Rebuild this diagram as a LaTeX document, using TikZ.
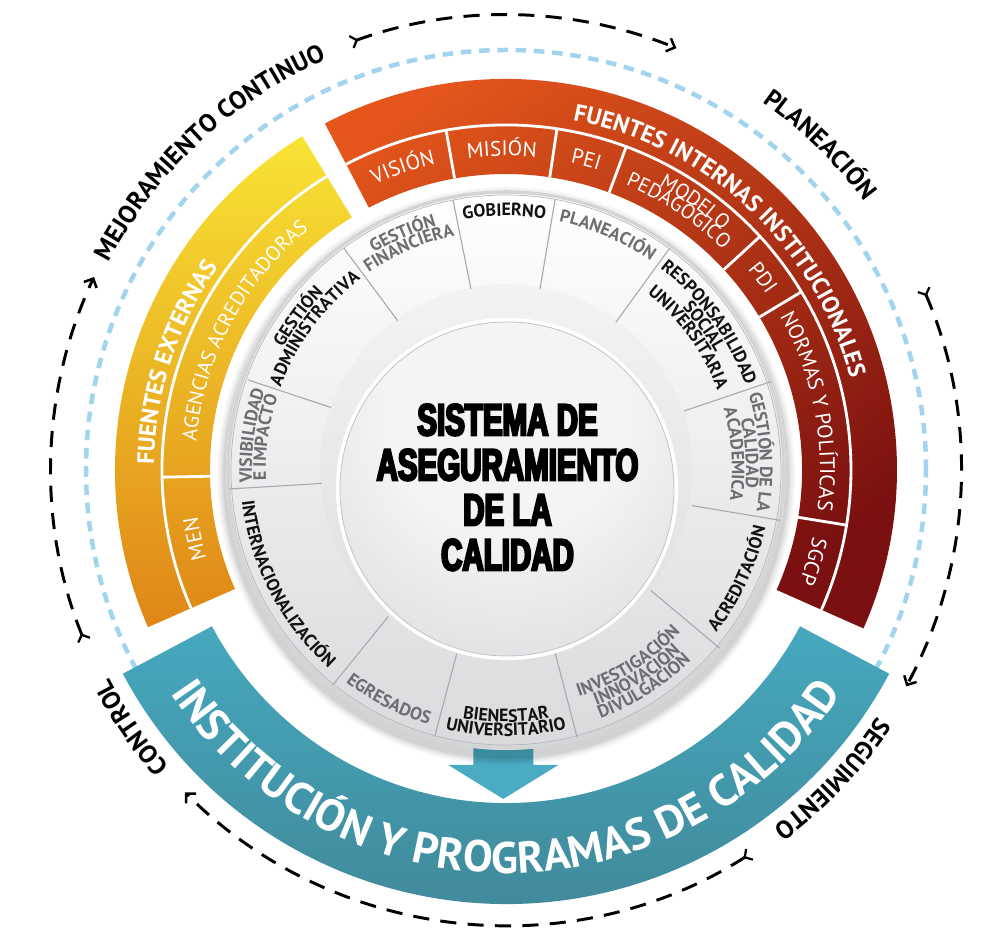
\documentclass[tikz,border=0pt]{standalone}
\usepackage{fontspec}
\usetikzlibrary{decorations.text,arrows.meta}
\newfontfamily\lblfont{PT Sans}
\newfontfamily\ttlfont[FakeStretch=0.66,FakeBold=5]{Liberation Sans}
\definecolor{redA}{HTML}{E4561B}
\definecolor{redB}{HTML}{7A1010}
\definecolor{yelA}{HTML}{F8E334}
\definecolor{yelB}{HTML}{DF8616}
\definecolor{tealA}{HTML}{46A8BE}
\definecolor{tealB}{HTML}{3F8494}
\definecolor{arrowC}{HTML}{4AABC2}
\definecolor{blueD}{HTML}{A3D4EF}
\definecolor{lblgray}{HTML}{6D6E71}
\definecolor{lblblack}{HTML}{121212}
\definecolor{divgray}{HTML}{A9AAAD}
\definecolor{ringB}{HTML}{D9DADC}
\definecolor{ringE}{HTML}{D3D4D6}
\definecolor{ringL}{HTML}{B5B6B9}
\definecolor{inA}{HTML}{F3F3F4}
\definecolor{inB}{HTML}{DDDEE0}
\definecolor{sphA}{HTML}{F4F4F5}
\definecolor{sphB}{HTML}{DBDCDE}
\definecolor{sphC}{HTML}{B5B7BA}
\pgfdeclareradialshading{spheresh}{\pgfpoint{0bp}{16bp}}{color(0bp)=(sphA); color(18bp)=(sphA); color(40bp)=(sphB); color(54bp)=(sphC); color(70bp)=(sphC)}
\newcommand\fRingB{\lblfont\bfseries\fontsize{12.7}{14}\selectfont\color{lblblack}}
\newcommand\fRingG{\lblfont\bfseries\fontsize{12.7}{14}\selectfont\color{lblgray}}
\newcommand\fOuter{\lblfont\bfseries\fontsize{18}{20}\selectfont\color{black}}
\newcommand\fBandT{\lblfont\bfseries\fontsize{17}{20}\selectfont\color{white}}
\newcommand\fCell{\lblfont\fontsize{15}{17}\selectfont\color{white}}
\newcommand\fCellS{\lblfont\fontsize{14.5}{16}\selectfont\color{white}}
\newcommand\fCellY{\lblfont\fontsize{14.5}{16}\selectfont\color{white}}
\newcommand\fTeal{\lblfont\bfseries\fontsize{31.5}{34}\selectfont\color{white}}
\newcommand\cwtxt[4]{\path[decorate,decoration={text along path,text align=center,text={|#3|#4}}] (#1+80:#2) arc[start angle=#1+80,end angle=#1-80,radius=#2];}
\newcommand\ccwtxt[4]{\path[decorate,decoration={text along path,text align=center,text={|#3|#4}}] (#1-80:#2) arc[start angle=#1-80,end angle=#1+80,radius=#2];}
\begin{document}
\begin{tikzpicture}[x=0.25mm,y=0.25mm,
  cyc/.style={line width=2.1pt, dash pattern=on 11.5pt off 8pt,
    arrows={{Straight Barb[reversed,length=4pt,width=9pt,line width=1.6pt]}-{Straight Barb[length=5pt,width=10pt,line width=1.8pt]}}},
  wline/.style={white,line width=2pt},
  divline/.style={divgray,line width=0.8pt}]
\useasboundingbox (0,0) rectangle (1000,944);
\fill[white] (0,0) rectangle (1000,944);
\begin{scope}[shift={(506,474)}]
\coordinate (C) at (0,0);
\coordinate (S) at (1,-19);
% outer cycle
\draw[blueD, line width=3.2pt, dash pattern=on 7.5pt off 5.5pt] (C) circle[radius=420];
\draw[cyc] (110:455) arc[start angle=110,end angle=68,radius=455];
\draw[cyc] (23.5:455) arc[start angle=23.5,end angle=-28.4,radius=455];
\draw[cyc] (-57.5:455) arc[start angle=-57.5,end angle=-134.9,radius=455];
\draw[cyc] (202.1:455) arc[start angle=202.1,end angle=154.9,radius=455];
\cwtxt{133}{448}{\fOuter}{MEJORAMIENTO CONTINUO}
\cwtxt{46}{448}{\fOuter}{PLANEACIÓN}
\cwtxt{-43.4}{446}{\fOuter}{SEGUIMIENTO}
\cwtxt{214.5}{448}{\fOuter}{CONTROL}
% yellow band
\shade[top color=yelA,bottom color=yelB] (121.4:391) arc[start angle=121.4,end angle=203.7,radius=391] -- (203.7:296) arc[start angle=203.7,end angle=121.4,radius=296] -- cycle;
\draw[wline] (121.4:344) arc[start angle=121.4,end angle=203.7,radius=344];
\draw[wline] (181.2:296) -- (181.2:344);
\cwtxt{162}{352}{\fBandT}{FUENTES EXTERNAS}
\cwtxt{152}{311}{\fCellY}{AGENCIAS ACREDITADORAS}
\cwtxt{192.5}{312}{\fCell}{MEN}
% red band
\shade[top color=redA,bottom color=redB,shading angle=35] (117.6:391) arc[start angle=117.6,end angle=-23.9,radius=391] -- (-23.9:296) arc[start angle=-23.9,end angle=117.6,radius=296] -- cycle;
\draw[wline] (117.6:345) arc[start angle=117.6,end angle=-23.9,radius=345];
\foreach \a in {100,81.5,69.6,42.6,31.1,-9.2} \draw[wline] (\a:296) -- (\a:345);
\cwtxt{47}{356}{\fBandT}{FUENTES INTERNAS INSTITUCIONALES}
\cwtxt{108.8}{314}{\fCell}{VISIÓN}
\cwtxt{90.75}{314}{\fCell}{MISIÓN}
\cwtxt{75.5}{314}{\fCell}{PEI}
\cwtxt{54.8}{323}{\fCellS}{MODELO}
\cwtxt{56.3}{309}{\fCellS}{PEDAGÓGICO}
\cwtxt{36.85}{314}{\fCell}{PDI}
\cwtxt{10.95}{314}{\fCell}{NORMAS Y POLÍTICAS}
\cwtxt{-16.55}{314}{\fCell}{SGCP}
% teal band
\shade[top color=tealA,bottom color=tealB] (208:434) arc[start angle=208,end angle=332,radius=434] -- (332:333) arc[start angle=332,end angle=208,radius=333] -- cycle;
\fill[arrowC] (-32.7,-272) -- (27.3,-272) -- (27.3,-295) -- (52.3,-295) -- (-2.7,-329) -- (-57.7,-295) -- (-32.7,-295) -- cycle;
\ccwtxt{270}{403}{\fTeal}{INSTITUCIÓN Y PROGRAMAS DE CALIDAD}
% ring
\foreach \i/\o in {9/0.03,7/0.04,5/0.05,3/0.06} \fill[black,opacity=\o] (0,-6) circle[radius=280+\i];
\shade[top color=white,bottom color=ringB] (C) circle[radius=280];
\draw[ringE,line width=2.5pt] (C) circle[radius=278];
\draw[ringL,line width=0.5pt] (C) circle[radius=275];
\shade[top color=inA,bottom color=inB] (C) circle[radius=186];
\foreach \a/\b/\c/\d in {-53/270/-35/181, 49/270/34/181, 163.5/221.6/109.8/147.6, 265/88.4/178/59, 274.5/-50.4/185.7/-35.6, 213.4/-178/145/-120.6, 71/-266.8/48.8/-181.7, -71.4/-266.8/-49.2/-183.5, -173.2/-215/-117.7/-146.5, -276.8/-19/-184.3/-13.4, -258.3/90.2/-175/62.5, -162/221.6/-108.4/149.4}
  \draw[divline] (\a,\b) -- (\c,\d);
\cwtxt{113.6}{254}{\fRingG}{GESTIÓN}
\cwtxt{113.6}{240}{\fRingG}{FINANCIERA}
\cwtxt{90.4}{254}{\fRingB}{GOBIERNO}
\cwtxt{66.6}{254}{\fRingG}{PLANEACIÓN}
\cwtxt{36}{254}{\fRingB}{RESPONSABILIDAD}
\cwtxt{36}{240}{\fRingB}{SOCIAL}
\cwtxt{36}{226}{\fRingB}{UNIVERSITARIA}
\cwtxt{4}{254}{\fRingG}{GESTIÓN DE LA}
\cwtxt{4}{240}{\fRingG}{CALIDAD}
\cwtxt{4}{226}{\fRingG}{ACADEMICA}
\cwtxt{172.3}{254}{\fRingG}{VISIBILIDAD}
\cwtxt{172.3}{240}{\fRingG}{E IMPACTO}
\cwtxt{143.5}{254}{\fRingB}{GESTIÓN}
\cwtxt{143.5}{240}{\fRingB}{ADMINISTRATIVA}
\ccwtxt{-25.1}{266}{\fRingB}{ACREDITACIÓN}
\ccwtxt{-57.5}{266}{\fRingG}{DIVULGACIÓN}
\ccwtxt{-57.5}{252}{\fRingG}{INNOVACIÓN}
\ccwtxt{-57.5}{238}{\fRingG}{INVESTIGACIÓN}
\ccwtxt{-90}{266}{\fRingB}{UNIVERSITARIO}
\ccwtxt{-90}{252}{\fRingB}{BIENESTAR}
\ccwtxt{-117}{266}{\fRingG}{EGRESADOS}
\ccwtxt{-152.5}{266}{\fRingB}{INTERNACIONALIZACIÓN}
% sphere
\draw[white,line width=3pt] (S) circle[radius=169];
\shade[shading=spheresh] (S) circle[radius=167];
\draw[sphC!80!white,line width=0.6pt] (S) circle[radius=167];
\node[align=center,font=\ttlfont\bfseries\fontsize{31.8}{32}\selectfont,inner sep=0pt] (ttl) at (1.5,-17.4) {SISTEMA DE\\ASEGURAMIENTO\\DE LA\\CALIDAD};
\end{scope}
\end{tikzpicture}
\end{document}
